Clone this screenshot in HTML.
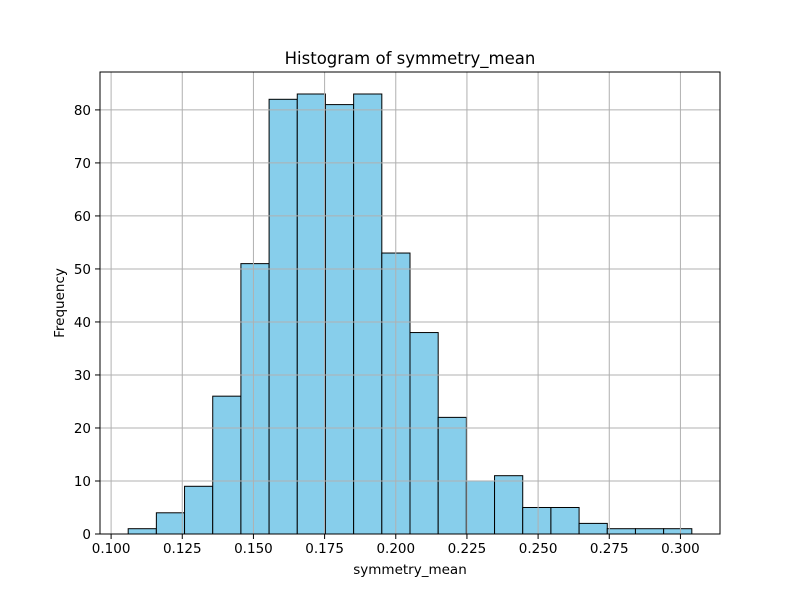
<!DOCTYPE html>
<html><head><meta charset="utf-8"><style>body{margin:0;background:#fff}svg text{font-family:"DejaVu Sans","Liberation Sans",sans-serif}</style></head>
<body>
<svg id="chart" width="800" height="600" xmlns="http://www.w3.org/2000/svg"></svg>
<script>
const binStart = 0.1060;
const binWidth = 0.0099;
const counts = [1,4,9,26,51,82,83,81,83,53,38,22,10,11,5,5,2,1,1,1];
const xTicks = [0.100,0.125,0.150,0.175,0.200,0.225,0.250,0.275,0.300];
const xTickLabels = ["0.100","0.125","0.150","0.175","0.200","0.225","0.250","0.275","0.300"];
const yTicks = [0,10,20,30,40,50,60,70,80];

const L=100,R=720,T=72,B=534;
const xMin=binStart-0.05*binWidth*counts.length, xMax=binStart+binWidth*counts.length*1.05;
const yMax=Math.max(...counts)*1.05;
const X=v=>L+(v-xMin)/(xMax-xMin)*(R-L);
const Y=v=>B-v/yMax*(B-T);
const svg=document.getElementById('chart');
const NS='http://www.w3.org/2000/svg';
function mk(tag,attrs,text){const e=document.createElementNS(NS,tag);for(const k in attrs)e.setAttribute(k,attrs[k]);if(text!==undefined)e.textContent=text;svg.appendChild(e);return e;}

counts.forEach((c,i)=>{
  const x0=X(binStart+i*binWidth),x1=X(binStart+(i+1)*binWidth);
  const r=mk('rect',{x:x0,y:Y(c),width:x1-x0,height:B-Y(c),fill:'#87ceeb',stroke:'#000','stroke-width':1});
  
  
});
xTicks.forEach((t,i)=>{
  const x=X(t);
  const g=mk('line',{x1:x,x2:x,y1:T,y2:B,stroke:'#b0b0b0','stroke-width':1});
  
  
  mk('line',{x1:x,x2:x,y1:B,y2:B+5,stroke:'#000','stroke-width':1});
  const lb=mk('text',{x:x,y:B+19,'font-size':13.5,'text-anchor':'middle'},xTickLabels[i]);
  
  
});
yTicks.forEach(t=>{
  const y=Y(t);
  const g=mk('line',{x1:L,x2:R,y1:y,y2:y,stroke:'#b0b0b0','stroke-width':1});
  
  
  mk('line',{x1:L-5,x2:L,y1:y,y2:y,stroke:'#000','stroke-width':1});
  const lb=mk('text',{x:L-9,y:y+5,'font-size':13.5,'text-anchor':'end'},String(t));
  
  
});
const f=mk('rect',{x:L,y:T,width:R-L,height:B-T,fill:'none',stroke:'#000','stroke-width':1});


const ti=mk('text',{x:(L+R)/2,y:T-8,'font-size':16.5,'text-anchor':'middle'},'Histogram of symmetry_mean');


const xl=mk('text',{x:(L+R)/2,y:B+40,'font-size':13.5,'text-anchor':'middle'},'symmetry_mean');


const yl=mk('text',{x:0,y:0,'font-size':13.5,'text-anchor':'middle',transform:`translate(64,${(T+B)/2}) rotate(-90)`},'Frequency');


</script>
</body></html>
